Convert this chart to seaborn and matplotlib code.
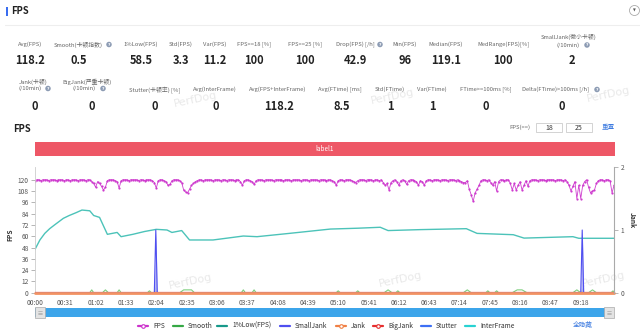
import matplotlib
matplotlib.use("Agg")
import matplotlib.pyplot as plt
import seaborn as sns
import numpy as np
import pandas as pd
from matplotlib.patches import Rectangle, Ellipse
from matplotlib.lines import Line2D

sns.set_theme(style="white")
plt.rcParams['font.family'] = ['Noto Sans CJK SC', 'DejaVu Sans']

# ---------------- data ----------------
stat_labels_1 = ["Avg(FPS)", "Smooth(卡顿指数)", "1%Low(FPS)", "Std(FPS)", "Var(FPS)",
                 "FPS>=18 [%]", "FPS>=25 [%]", "Drop(FPS) [/h]", "Min(FPS)",
                 "Median(FPS)", "MedRange(FPS)[%]", "SmallJank(微小卡顿)"]
stat_values_1 = ["118.2", "0.5", "58.5", "3.3", "11.2", "100", "100", "42.9", "96",
                 "119.1", "100", "2"]
stat_labels_2 = ["Jank(卡顿)", "BigJank(严重卡顿)", "Stutter(卡顿率) [%]", "Avg(InterFrame)",
                 "Avg(FPS+InterFrame)", "Avg(FTime) [ms]", "Std(FTime)", "Var(FTime)",
                 "FTime>=100ms [%]", "Delta(FTime)>100ms [/h]"]
stat_values_2 = ["0", "0", "0", "0", "118.2", "8.5", "1", "1", "0", "0"]

fps_time = list(range(0, 593, 2))
fps_values = [
    119, 120, 120, 119, 120, 120, 120, 119, 120, 120,
    120, 119, 120, 120, 120, 119, 120, 120, 119, 120,
    120, 120, 119, 120, 120, 120, 119, 120, 120, 118,
    116, 112, 118, 116, 113, 109, 112, 119, 120, 120,
    120, 119, 118, 111, 119, 120, 120, 120, 119, 120,
    120, 120, 120, 119, 120, 120, 119, 120, 120, 120,
    119, 117, 111, 119, 120, 120, 119, 118, 114, 115,
    119, 120, 120, 120, 119, 117, 109, 107, 106, 110,
    114, 116, 118, 119, 120, 120, 119, 120, 120, 120,
    120, 119, 120, 120, 120, 119, 120, 120, 119, 120,
    120, 120, 119, 120, 120, 118, 114, 119, 120, 120,
    119, 118, 115, 119, 120, 120, 120, 119, 120, 120,
    120, 120, 119, 120, 120, 120, 120, 119, 120, 120,
    120, 119, 120, 120, 120, 120, 119, 120, 120, 120,
    119, 120, 120, 120, 120, 119, 120, 120, 120, 119,
    120, 120, 119, 118, 114, 119, 120, 120, 119, 120,
    120, 120, 119, 118, 117, 119, 120, 120, 120, 119,
    120, 120, 120, 119, 120, 120, 119, 120, 117, 114,
    116, 109, 117, 119, 120, 118, 114, 119, 120, 119,
    115, 119, 120, 120, 119, 118, 114, 119, 118, 114,
    119, 120, 120, 119, 120, 120, 120, 119, 120, 120,
    120, 119, 120, 120, 120, 119, 120, 119, 118, 117,
    117, 119, 110, 104, 97, 106, 110, 114, 119, 120,
    120, 119, 120, 117, 114, 118, 108, 118, 120, 120,
    119, 120, 120, 116, 109, 116, 109, 114, 118, 109,
    114, 119, 113, 119, 120, 120, 120, 119, 120, 120,
    120, 119, 120, 120, 120, 120, 119, 120, 120, 120,
    119, 120, 118, 114, 108, 113, 118, 100, 114, 100,
    114, 118, 120, 112, 106, 108, 109, 116, 119, 120,
    120, 119, 120, 120, 119, 106, 114,
]

low_time = [0, 5, 10, 15, 20, 29, 35, 42, 48, 56, 60, 66, 74, 84, 88, 100, 112, 124,
            135, 140, 150, 158, 182, 213, 227, 260, 302, 330, 353, 361, 394, 441, 452,
            489, 500, 550, 556, 592]
low_values = [46, 56, 63, 68, 72, 79, 82, 85, 87.8, 87, 82, 80, 62, 64, 59.5, 62, 65, 67.3,
              66.6, 64, 66, 56, 56, 60.2, 59.5, 63, 67.6, 68.5, 69.5, 66, 67, 68, 63,
              61.6, 58, 59.5, 57.8, 57.8]

smooth_time = [0, 56, 58, 60, 69, 72, 75, 84, 86, 88, 115, 117, 119, 122, 123, 124,
               148, 152, 156, 160, 163, 211, 213, 215, 222, 224, 226, 308, 310, 312,
               328, 330, 332, 357, 361, 365, 369, 371, 373, 438, 442, 446, 461, 463, 465,
               470, 472, 474, 488, 493, 498, 503, 505, 550, 554, 558, 559, 560, 561,
               566, 570, 574, 589, 591, 592]
smooth_values = [0, 0, 3, 0, 0, 3, 0, 0, 3, 0, 0, 2, 0, 0, 5, 0,
                 0, 3, 3, 3, 0, 0, 3, 0, 0, 3, 0, 0, 2, 0,
                 0, 2, 0, 0, 3, 0, 0, 2, 0, 0, 3, 0, 0, 2, 0,
                 0, 2, 0, 0, 3, 3, 0, 0, 0, 3, 0, 0, 4, 0,
                 0, 3, 0, 0, 2, 0]

smalljank_time = [0, 122, 123.5, 125, 558, 559.5, 561, 592]
smalljank_values = [0, 0, 1, 0, 0, 1, 0, 0]

zero_time = [0, 592]
zero_values = [0, 0]

series_names = ["FPS", "Smooth", "1%Low(FPS)", "SmallJank", "Jank", "BigJank", "Stutter", "InterFrame"]
fps_thresholds = ["18", "25"]

# ---------------- colours ----------------
C_FPS = "#cc33cc"
C_SMOOTH = "#35a845"
C_LOW = "#17998a"
C_LOW_LINE = "#4cc3b9"
C_SJ = "#4f4ff0"
C_JANK = "#f08045"
C_BIG = "#e62e2e"
C_STUT = "#3d6ff5"
C_INTER = "#28d2d2"
GRAY = "#666666"

W, H = 640, 330
fig = plt.figure(figsize=(6.4, 3.3), dpi=100)
fig.patch.set_facecolor("white")


def X(px):
    return px / W


def Y(py):
    return 1 - py / H


def ftext(x, y, s, **kw):
    kw.setdefault("ha", "center")
    kw.setdefault("va", "center")
    return fig.text(X(x), Y(y), s, **kw)


def qicon(x, y):
    fig.add_artist(Ellipse((X(x), Y(y)), 5.5 / W, 5.5 / H, transform=fig.transFigure,
                           facecolor="#8c9bb3", edgecolor="none"))
    ftext(x, y + 0.2, "?", fontsize=3.2, color="white", fontweight="bold",
          family="DejaVu Sans")


# ---------------- header ----------------
fig.add_artist(Rectangle((X(6), Y(16)), 2 / W, 9 / H, transform=fig.transFigure,
                         facecolor="#3a6df0", edgecolor="none"))
ftext(11, 11.5, "FPS", ha="left", fontsize=6.8, fontweight="bold", color="#222")
fig.add_artist(Line2D([X(5), X(640)], [Y(25), Y(25)], transform=fig.transFigure,
                      color="#eeeeee", lw=0.8))
fig.add_artist(Ellipse((X(634.5), Y(10.5)), 10 / W, 10 / H, transform=fig.transFigure,
                       facecolor="white", edgecolor="#aaaaaa", lw=0.6))
ftext(634.5, 10.8, "▼", fontsize=2.6, color="#555", family="DejaVu Sans")

# watermarks
for (wx, wy) in [(195, 100), (392, 97), (608, 95), (190, 282), (400, 280), (603, 280)]:
    ftext(wx, wy, "PerfDog", fontsize=8, color="#e9e9e9", rotation=12, zorder=-5,
          family="DejaVu Sans")

# ---------------- stats ----------------
LBL = dict(fontsize=4.2, color=GRAY)
VAL = dict(fontsize=8, color="#222", fontweight="bold")
x1 = [30, 78.5, 141, 181, 215, 254, 305, 355, 405, 446, 503, 568.5]
for i, (lab, val) in enumerate(zip(stat_labels_1, stat_values_1)):
    if i == len(stat_labels_1) - 1:
        ftext(x1[i], 37, lab, **LBL)
        ftext(x1[i], 45, "(/10min)", **LBL)
    else:
        ftext(x1[i], 44.5, lab, **LBL)
    ftext(x1[i] + (3 if i == len(stat_labels_1) - 1 else 0), 61, val, **VAL)
qicon(109, 44.5)
qicon(380, 44.5)
qicon(587, 45)

x2 = [33, 87, 155, 215, 278, 340, 390, 432, 486, 556]
v2x = [35, 92, 155, 216, 279, 342, 390, 432, 486, 562]
for i, (lab, val) in enumerate(zip(stat_labels_2, stat_values_2)):
    if i < 2:
        ftext(x2[i], 81.5, lab, **LBL)
        ftext(x2[i] - 3, 88.5, "(/10min)", **LBL)
    else:
        ftext(x2[i], 89.5, lab, **LBL)
    ftext(v2x[i], 106.5, val, **VAL)
qicon(48, 88.5)
qicon(103, 88.5)
qicon(597, 89.5)

# ---------------- chart header ----------------
ftext(13, 129, "FPS", ha="left", fontsize=6.8, fontweight="bold", color="#222")
ftext(520, 127.5, "FPS(>=)", fontsize=4.2, color=GRAY)
for (bx0, bx1), lab in zip([(536, 562), (566, 592)], fps_thresholds):
    fig.add_artist(Rectangle((X(bx0), Y(132)), (bx1 - bx0) / W, 9 / H,
                             transform=fig.transFigure, facecolor="white",
                             edgecolor="#cccccc", lw=0.6))
    ftext((bx0 + bx1) / 2, 127.5, lab, fontsize=5, color="#333")
ftext(608, 127.5, "重置", fontsize=4.8, color="#3d7be0")

fig.add_artist(Rectangle((X(34.5), Y(155.7)), (615 - 34.5) / W, 14 / H,
                         transform=fig.transFigure, facecolor="#ee5766",
                         edgecolor="none"))
ftext(325, 148.6, "label1", fontsize=4.6, color="white")

# ---------------- plot ----------------
ax = fig.add_axes([X(35), Y(292.7), (614 - 35) / W, (292.7 - 167.3) / H])
ax.set_facecolor("none")
ax2 = ax.twinx()
ax2.set_facecolor("none")

# left-axis series
sns.lineplot(x=zero_time, y=zero_values, ax=ax, color=C_INTER, lw=1.2)
sns.lineplot(x=smooth_time, y=smooth_values, ax=ax, color="#7fcf7f", lw=0.8)
sns.lineplot(x=low_time, y=low_values, ax=ax, color=C_LOW_LINE, lw=1.0)
sns.lineplot(x=fps_time, y=fps_values, ax=ax, color=C_FPS, lw=0.6, marker="o",
             markersize=1.6, markeredgewidth=0, alpha=0.95)
# right-axis (Jank) series, drawn on top
sns.lineplot(x=zero_time, y=zero_values, ax=ax2, color=C_STUT, lw=1.2)
sns.lineplot(x=zero_time, y=zero_values, ax=ax2, color=C_BIG, lw=1.6)
ax2.fill_between(smalljank_time, smalljank_values, color="#b3b3f5", alpha=0.9, lw=0)
sns.lineplot(x=smalljank_time, y=smalljank_values, ax=ax2, color=C_SJ, lw=0.8)
sns.lineplot(x=zero_time, y=zero_values, ax=ax2, color="#f39262", lw=2.0)
ax2.lines[-1].set_clip_on(False)

ax.set_xlim(0, 592)
ax.set_ylim(0, 133.2)
ax2.set_ylim(0, 2)
ax.set_yticks(list(range(0, 121, 12)))
ax2.set_yticks([0, 1, 2])
xt = list(range(0, 559, 31))
ax.set_xticks(xt)
ax.set_xticklabels([f"{t // 60:02d}:{t % 60:02d}" for t in xt])
for a in (ax, ax2):
    a.tick_params(labelsize=4.8, labelcolor="#555", color="#999", length=3, width=0.5,
                  pad=1.5)
    a.set_xlabel("")
    a.set_ylabel("")
    a.grid(False)
    for s in a.spines.values():
        s.set_visible(False)
ax.spines["left"].set_visible(True)
ax.spines["left"].set_color("#cccccc")
ax.spines["left"].set_linewidth(0.6)
ax.spines["bottom"].set_visible(True)
ax.spines["bottom"].set_color("#999999")
ax.spines["bottom"].set_linewidth(0.8)
ax2.spines["right"].set_visible(True)
ax2.spines["right"].set_color("#aaaaaa")
ax2.spines["right"].set_linewidth(0.8)
ax.tick_params(axis="y", direction="out")
ax2.tick_params(axis="y", direction="out", pad=2)

ftext(10, 235, "FPS", rotation=90, fontsize=4.8, fontweight="bold", color="#333")
ftext(632, 220, "Jank", rotation=270, fontsize=4.8, fontweight="bold", color="#333")

# ---------------- slider ----------------
fig.add_artist(Rectangle((X(35), Y(317)), (614 - 35) / W, 9 / H, transform=fig.transFigure,
                         facecolor="#3ca5ea", edgecolor="none"))
for hx in (35, 604):
    fig.add_artist(Rectangle((X(hx), Y(318)), 10 / W, 11 / H, transform=fig.transFigure,
                             facecolor="#e3e3e3", edgecolor="#aaaaaa", lw=0.5))
    for dy in (-1.5, 0, 1.5):
        fig.add_artist(Line2D([X(hx + 3), X(hx + 7)], [Y(312.5 + dy), Y(312.5 + dy)],
                              transform=fig.transFigure, color="#999999", lw=0.4))

# ---------------- legend ----------------
leg_x = [143, 178, 222, 285, 341, 378, 426, 470]
leg_colors = [C_FPS, C_SMOOTH, C_LOW, C_SJ, C_JANK, C_BIG, C_STUT, C_INTER]
leg_marker = [True, False, False, False, True, True, False, False]
ly = 325.5
for name, lx, c, m in zip(series_names, leg_x, leg_colors, leg_marker):
    fig.add_artist(Line2D([X(lx - 5), X(lx + 5)], [Y(ly), Y(ly)], transform=fig.transFigure,
                          color=c, lw=1.6))
    if m:
        fig.add_artist(Line2D([X(lx)], [Y(ly)], transform=fig.transFigure, marker="o",
                              markersize=2.6, markerfacecolor="white",
                              markeredgecolor=c, markeredgewidth=0.8, lw=0))
    ftext(lx + 10, ly, name, ha="left", fontsize=4.8, color="#333")
ftext(583, ly, "全隐藏", fontsize=4.8, color="#3d7be0")

fig.savefig("out.png", dpi=100, facecolor="white")
